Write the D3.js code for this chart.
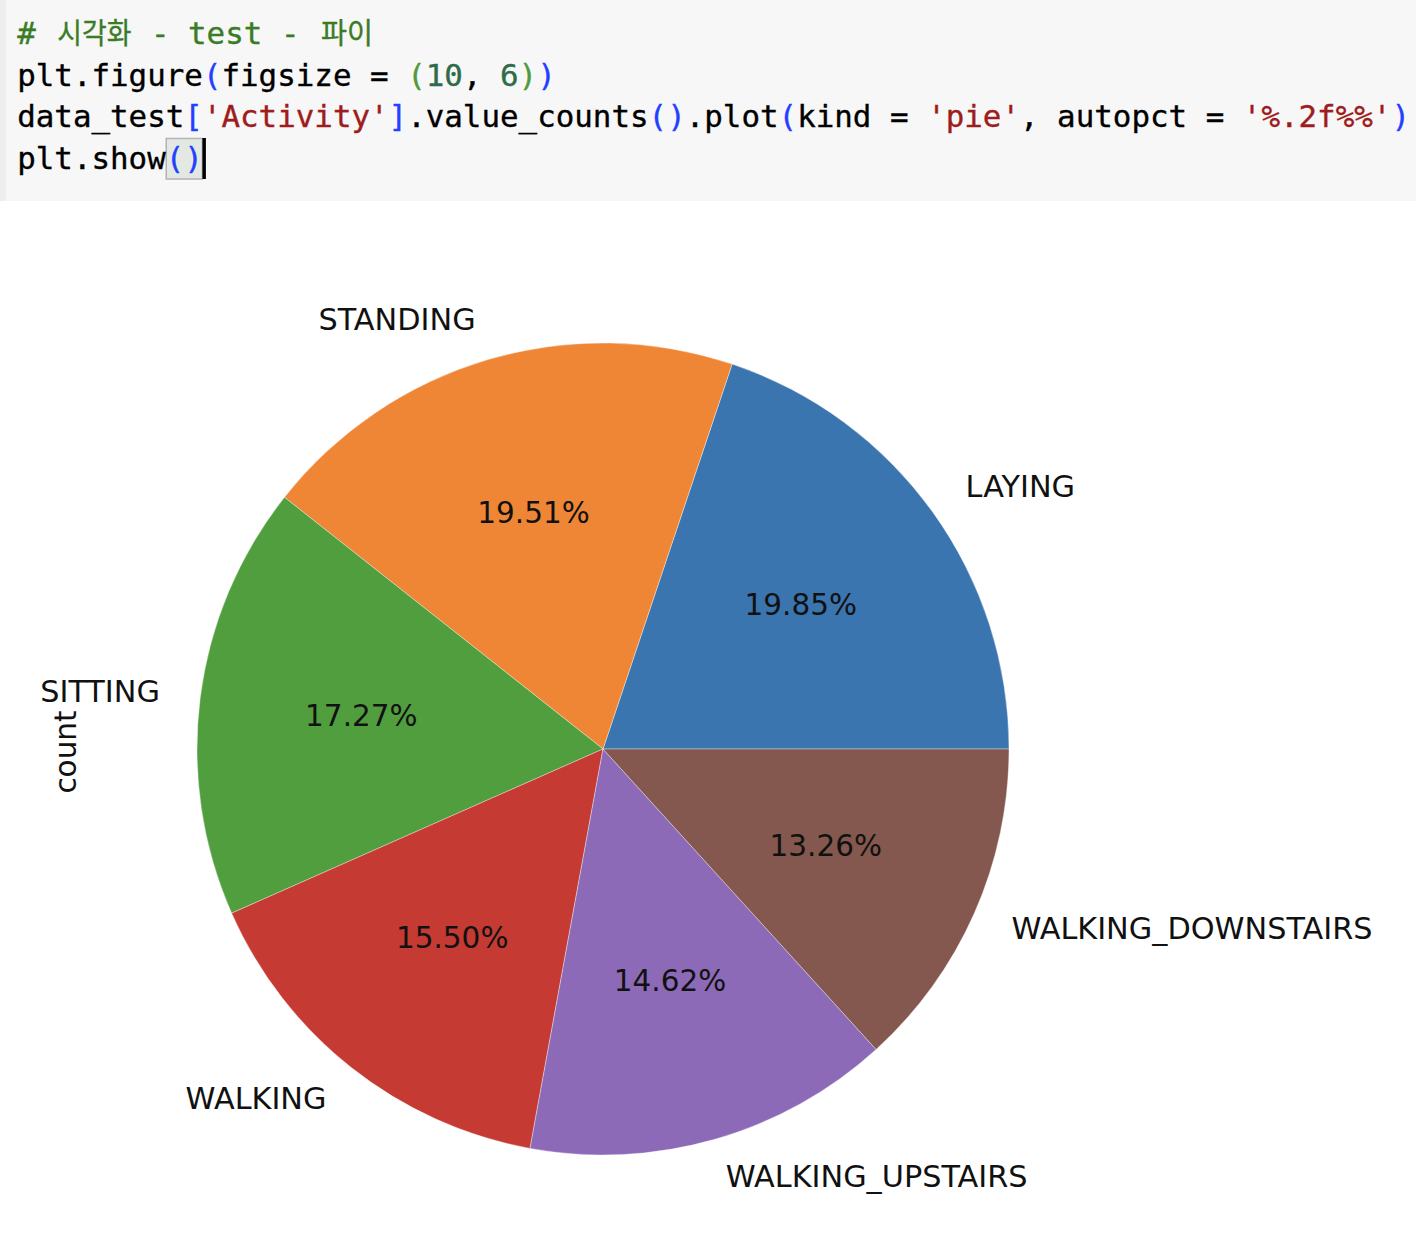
<!DOCTYPE html>
<html lang="ko">
<head>
<meta charset="UTF-8">
<title>Activity pie</title>
<script src="https://cdn.jsdelivr.net/npm/d3@7"></script>
<style>
  html, body { margin: 0; padding: 0; background: #fff; }
  svg { display: block; }
  .code text { font-family: "DejaVu Sans Mono", monospace; font-size: 30.85px; white-space: pre; }
  .code tspan { stroke-width: 0.35px; }
  .kr { font-family: "Noto Sans CJK KR", sans-serif; }
  .lbl { font-family: "DejaVu Sans", sans-serif; fill: #111; }
</style>
</head>
<body>
<svg width="1416" height="1238"></svg>
<script>
// data
var activities = ['LAYING', 'STANDING', 'SITTING', 'WALKING', 'WALKING_UPSTAIRS', 'WALKING_DOWNSTAIRS'];
var shares = [19.85, 19.51, 17.27, 15.50, 14.62, 13.26];
var colors = ['#3b75af', '#ef8636', '#519e3e', '#c53a32', '#8d6ab8', '#84584e'];

var svg = d3.select('svg');
var W = +svg.attr('width');

// ---- code cell on top ----
var code = svg.append('g').attr('class', 'code');
code.append('rect').attr('x', 0).attr('y', 0).attr('width', W).attr('height', 201).attr('fill', '#f7f7f7');
code.append('rect').attr('x', 0).attr('y', 0).attr('width', 6).attr('height', 201).attr('fill', '#eeeeee');

var C = {txt: '#000', com: '#3a7c26', str: '#9e1c1c', br: '#2140ff', par: '#4f9a3c', num: '#2e6b48'};
// [text, colour, fixed width for the Korean pieces]
var codeLines = [
  [['# ', 'com'], ['시각화', 'com', 78], [' - test - ', 'com'], ['파이', 'com', 56]],
  [['plt.figure', 'txt'], ['(', 'br'], ['figsize = ', 'txt'], ['(', 'par'], ['10', 'num'], [', ', 'txt'],
   ['6', 'num'], [')', 'par'], [')', 'br']],
  [['data_test', 'txt'], ['[', 'br'], ["'Activity'", 'str'], [']', 'br'], ['.value_counts', 'txt'], ['()', 'br'],
   ['.plot', 'txt'], ['(', 'br'], ['kind = ', 'txt'], ["'pie'", 'str'], [', autopct = ', 'txt'],
   ["'%.2f%%'", 'str'], [')', 'br']],
  [['plt.show', 'txt'], ['()', 'br']]
];
var charW = 18.57, x0 = 17.2, baseY = 44, lineH = 41.5;

// bracket match box + cursor on last line
code.append('rect').attr('x', x0 + 8 * charW + 0.5).attr('y', 138.5).attr('width', 2 * charW - 1).attr('height', 40.5)
  .attr('fill', '#e4e8e2').attr('stroke', '#b3b3b3').attr('stroke-width', 1.5);
code.append('rect').attr('x', x0 + 10 * charW - 0.5).attr('y', 138).attr('width', 3.5).attr('height', 41).attr('fill', '#000');

codeLines.forEach(function(line, li) {
  var t = code.append('text').attr('y', baseY + li * lineH);
  var x = x0;
  line.forEach(function(tok) {
    var s = t.append('tspan').attr('x', x).attr('fill', C[tok[1]]).attr('stroke', C[tok[1]]).text(tok[0]);
    if (tok[2]) {
      s.attr('class', 'kr').attr('font-size', 29).attr('x', x + 3)
        .attr('textLength', tok[2] - 4).attr('lengthAdjust', 'spacingAndGlyphs');
      x += tok[2];
    } else {
      x += tok[0].length * charW;
    }
  });
});

// ---- pie ----
var cx = 603, cy = 749, r = 406;
var g = svg.append('g').attr('transform', 'translate(' + cx + ',' + cy + ')');

var pie = d3.pie().sort(null).value(function(d) { return d; })
  .startAngle(Math.PI / 2).endAngle(Math.PI / 2 - 2 * Math.PI);
var arcs = pie(shares);
var total = d3.sum(shares);

var arc = d3.arc().innerRadius(0).outerRadius(r);
var pctArc = d3.arc().innerRadius(r * 0.6).outerRadius(r * 0.6);
var lblArc = d3.arc().innerRadius(r * 1.1).outerRadius(r * 1.1);

g.selectAll('path.slice').data(arcs).enter().append('path')
  .attr('class', 'slice')
  .attr('d', arc)
  .attr('fill', function(d, i) { return colors[i]; })
  .attr('stroke', '#ffffff').attr('stroke-opacity', 0.45).attr('stroke-width', 0.8);

g.selectAll('text.pct').data(arcs).enter().append('text')
  .attr('class', 'lbl pct')
  .attr('font-size', 29.5)
  .attr('transform', function(d) { return 'translate(' + pctArc.centroid(d) + ')'; })
  .attr('text-anchor', 'middle')
  .attr('dy', '0.27em')
  .text(function(d) { return d3.format('.2f')(d.value / total * 100) + '%'; });

g.selectAll('text.name').data(arcs).enter().append('text')
  .attr('class', 'lbl name')
  .attr('font-size', 30.3)
  .attr('transform', function(d) { return 'translate(' + lblArc.centroid(d) + ')'; })
  .attr('text-anchor', function(d) { return lblArc.centroid(d)[0] > 0 ? 'start' : 'end'; })
  .attr('dy', '0.3em')
  .text(function(d, i) { return activities[i]; });

// y label
svg.append('text').attr('class', 'lbl')
  .attr('font-size', 29.5)
  .attr('transform', 'translate(76,752) rotate(-90)')
  .attr('text-anchor', 'middle')
  .text('count');
</script>
</body>
</html>
